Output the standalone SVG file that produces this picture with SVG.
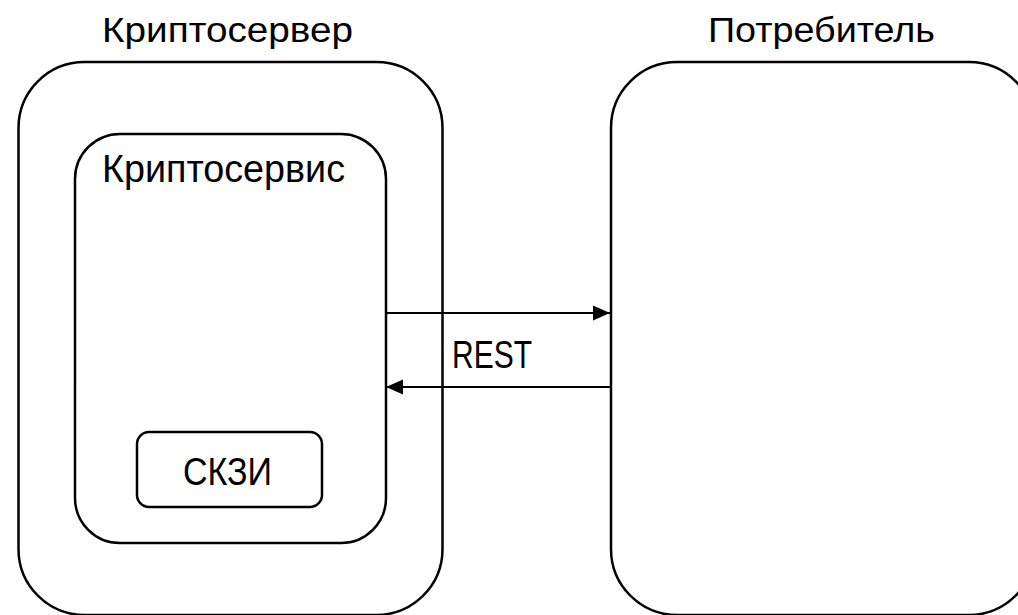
<svg xmlns="http://www.w3.org/2000/svg" width="1018" height="615" viewBox="0 0 1018 615">
<style>
.box{fill:none;stroke:#000;stroke-width:2.5}
.lbl{font-family:"Liberation Sans","Open Sans",sans-serif;font-size:35px;fill:#000}
.big{font-size:38px}
.conn{stroke:#000;stroke-width:2;fill:none}
</style>
<defs>
<marker id="ah" markerUnits="userSpaceOnUse" markerWidth="18" markerHeight="16" refX="17" refY="8" orient="auto">
<path d="M0,0.5 L17,8 L0,15.5 Z" fill="#000"/>
</marker>
</defs>
<rect width="1018" height="615" fill="#fff"/>
<g id="cryptoserver">
<rect class="box" x="18.5" y="62" width="424" height="553" rx="66" ry="66"/>
<text class="lbl" x="102" y="42" textLength="251" lengthAdjust="spacingAndGlyphs">Криптосервер</text>
</g>
<g id="consumer">
<rect class="box" x="611" y="62" width="424" height="553" rx="66" ry="66"/>
<text class="lbl" x="708" y="42" textLength="227" lengthAdjust="spacingAndGlyphs">Потребитель</text>
</g>
<g id="cryptoservice">
<rect class="box" x="75" y="134" width="311" height="409" rx="45" ry="45"/>
<text class="lbl big" x="102" y="182" textLength="243" lengthAdjust="spacingAndGlyphs">Криптосервис</text>
</g>
<g id="skzi">
<rect class="box" x="137" y="432" width="185" height="75" rx="12" ry="12"/>
<text class="lbl big" x="183" y="485" textLength="89" lengthAdjust="spacingAndGlyphs">СКЗИ</text>
</g>
<g id="connectors">
<line class="conn" x1="386" y1="313" x2="610" y2="313" marker-end="url(#ah)"/>
<line class="conn" x1="610" y1="387" x2="386" y2="387" marker-end="url(#ah)"/>
<text class="lbl big" x="452" y="368" textLength="80" lengthAdjust="spacingAndGlyphs">REST</text>
</g>
</svg>
